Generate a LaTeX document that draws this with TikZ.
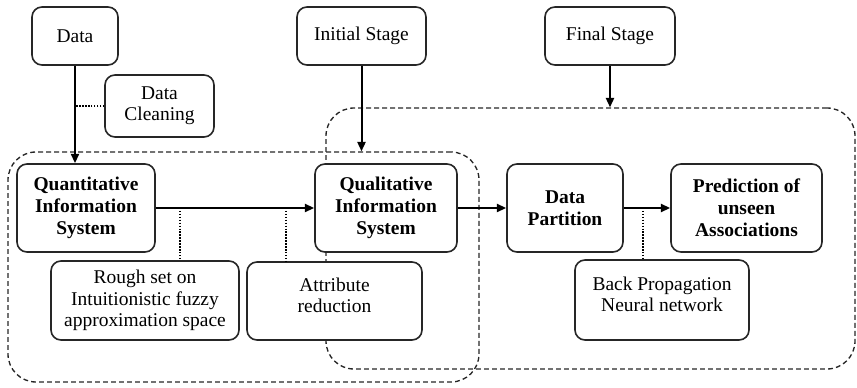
\documentclass[tikz,border=0pt]{standalone}
\usepackage{fontspec}
\setmainfont{Liberation Serif}
\usetikzlibrary{arrows.meta}
\begin{document}
\begin{tikzpicture}[x=0.75pt,y=-0.75pt,
  sz/.style 2 args={minimum width=#1*0.75pt, minimum height=#2*0.75pt},
  box/.style={draw=black!85, line width=1.2pt, rounded corners=7.5pt, fill=white,
    align=center, inner sep=0pt, font=\fontsize{14.6}{16}\selectfont},
  boldbox/.style={box, font=\fontsize{14.6}{16.5}\selectfont\bfseries},
  region/.style={draw=black!85, line width=1pt, dash pattern=on 3.6pt off 2.4pt,
    rounded corners=21pt, inner sep=0pt},
  flow/.style={line width=1.5pt, -{Triangle[length=7pt,width=6pt]}},
  dots/.style={line width=1.5pt, dash pattern=on 1.1pt off 1.1pt}
]
\useasboundingbox (0,0) rectangle (857,388);
% dashed regions
\node[region, sz={471}{230}] (leftreg) at (243.5,267) {};
\node[region, sz={529}{261}] (rightreg) at (590.5,238.5) {};
% boxes
\node[box, sz={86}{58}] (data) at (75,36) {Data};
\node[box, sz={109}{62}] (clean) at (159.5,106) {Data\\Cleaning};
\node[box, sz={129}{58}] (init) at (361.5,36) {Initial Stage};
\node[box, sz={130}{58}] (final) at (610,36) {Final Stage};
\node[boldbox, sz={138}{88}] (quant) at (86,208) {Quantitative\\Information\\System};
\node[boldbox, sz={142}{88}] (qual) at (386,208) {Qualitative\\Information\\System};
\node[boldbox, sz={116}{88}] (part) at (565,208) {Data\\Partition};
\node[boldbox, sz={151}{88}] (pred) at (746.5,208) {Prediction of\\unseen\\Associations};
\node[box, sz={188}{79}] (rough) at (145,300.5) {Rough set on\\Intuitionistic fuzzy\\approximation space};
\node[box, sz={175}{78}] (attr) at (334.5,301) {Attribute\\reduction\\[-7pt]};
\node[box, sz={174}{80}] (bp) at (662,300) {Back Propagation\\Neural network\\[-7pt]};
% tap points on the flow arrows
\coordinate (t1) at (180,208);
\coordinate (t2) at (286,208);
\coordinate (t3) at (643,208);
% connectors
\draw[flow] (data.south) -- (data.south |- quant.north);
\draw[flow] (init.south) -- (init.south |- leftreg.north);
\draw[flow] (final.south) -- (final.south |- rightreg.north);
\draw[flow] (quant.east) -- (qual.west);
\draw[flow] (qual.east) -- (part.west);
\draw[flow] (part.east) -- (pred.west);
\draw[dots] (clean.west) -- (clean.west -| data.south);
\draw[dots] (t1) -- (t1 |- rough.north);
\draw[dots] (t2) -- (t2 |- attr.north);
\draw[dots] (t3) -- (t3 |- bp.north);
\end{tikzpicture}
\end{document}
